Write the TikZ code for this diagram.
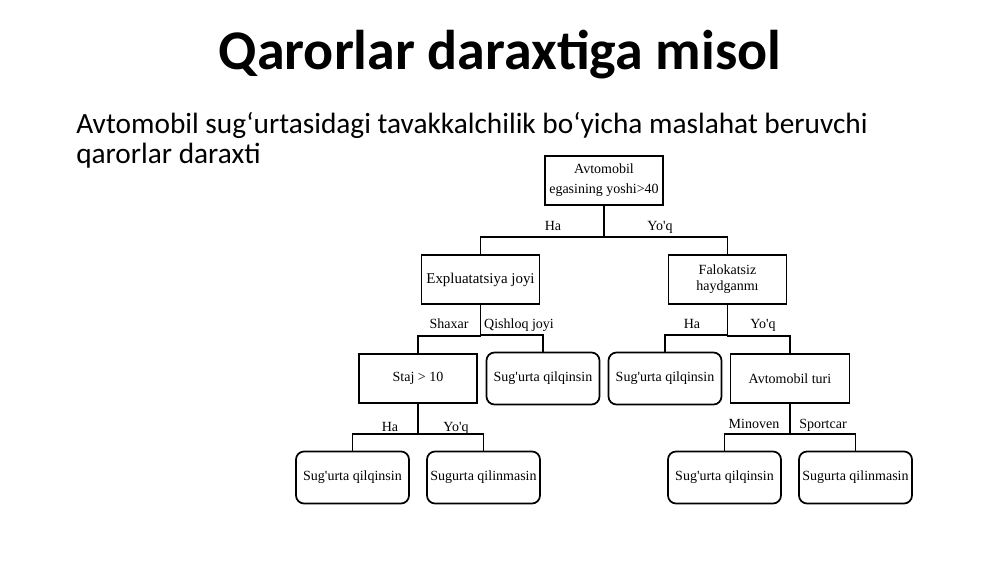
\documentclass[tikz,border=0pt]{standalone}
\usepackage{fontspec}
\setmainfont{Carlito}
\newfontfamily\treefont[Ligatures=TeXOff]{Liberation Serif}
\usetikzlibrary{positioning}

\begin{document}
\begin{tikzpicture}[x=0.75pt,y=-0.75pt,
  level/.style={level distance=74.25pt},
  level 1/.style={sibling distance=185.25pt},
  level 2/.style={sibling distance=93.75pt},
  level 3/.style={sibling distance=98.25pt},
  edge from parent/.style={draw,line width=1.3pt},
  edge from parent path={(\tikzparentnode.south) |- ([yshift=12.75pt]\tikzchildnode.north) -- (\tikzchildnode.north)}]
\tikzset{every node/.style={font=\treefont\fontsize{10.5}{12}\selectfont,inner sep=1pt}}
\tikzset{question/.style={draw,line width=1.3pt,minimum width=88.5pt,minimum height=36.75pt,align=center}}
\tikzset{answer/.style={draw,line width=1.3pt,rounded corners=6pt,minimum width=84.75pt,minimum height=39pt}}
\tikzset{branch/.style={anchor=base}}
%\tikzset{answer/.style={draw,line width=1.2pt,
%                        rounded corners=8pt,
%                        minimum width=3cm
%                       }}
\fill[white] (0,0) rectangle (1000,562);
\useasboundingbox (0,0) rectangle (1000,562);
\node[font=\fontsize{42}{48}\selectfont\bfseries,anchor=base] (title) at (500,69) {Qarorlar daraxtiga misol};
\node[font=\fontsize{22}{22.5}\selectfont,anchor=north west,align=left,inner sep=0pt] (subtitle) at (76,112)
    {Avtomobil sug‘urtasidagi tavakkalchilik bo‘yicha maslahat beruvchi\\qarorlar daraxti};
\node[question] (age) at (604,180.5) {Avtomobil\\[3pt]egasining yoshi>40}
    child {
        node[question,font=\treefont\fontsize{11.2}{13}\selectfont] (place) {Expluatatsiya joyi}
        child {
            node[question] (staj) {Staj > 10}
            child {node[answer] (yes1) {Sug'urta qilqinsin}}
            child {node[answer] (no1) {Sugurta qilinmasin}}
        }
        child {node[answer] (yes2) {Sug'urta qilqinsin}}
    }
    child {
        node[question] (safe) {Falokatsiz\\haydganmı}
        child {node[answer] (yes3) {Sug'urta qilqinsin}}
        child {
            node[question,minimum width=89.25pt] (cartype) {Avtomobil turi}
            child {node[answer] (yes4) {Sug'urta qilqinsin}}
            child {node[answer] (no2) {Sugurta qilinmasin}}
        }
    }
    ;
% labels on the branches
\node[branch] (agey) at (553,230) {Ha};
\node[branch] (agen) at (660,230) {Yo'q};
\node[branch] (city) at (449,328) {Shaxar};
\node[branch] (village) at (519,328) {Qishloq joyi};
\node[branch] (safey) at (692,328) {Ha};
\node[branch] (safen) at (763,328) {Yo'q};
\node[branch] (stajy) at (390,431) {Ha};
\node[branch] (stajn) at (456,431) {Yo'q};
\node[branch] (minivan) at (754,428) {Minoven};
\node[branch] (sport) at (823,428) {Sportcar};
\end{tikzpicture}
\end{document}
